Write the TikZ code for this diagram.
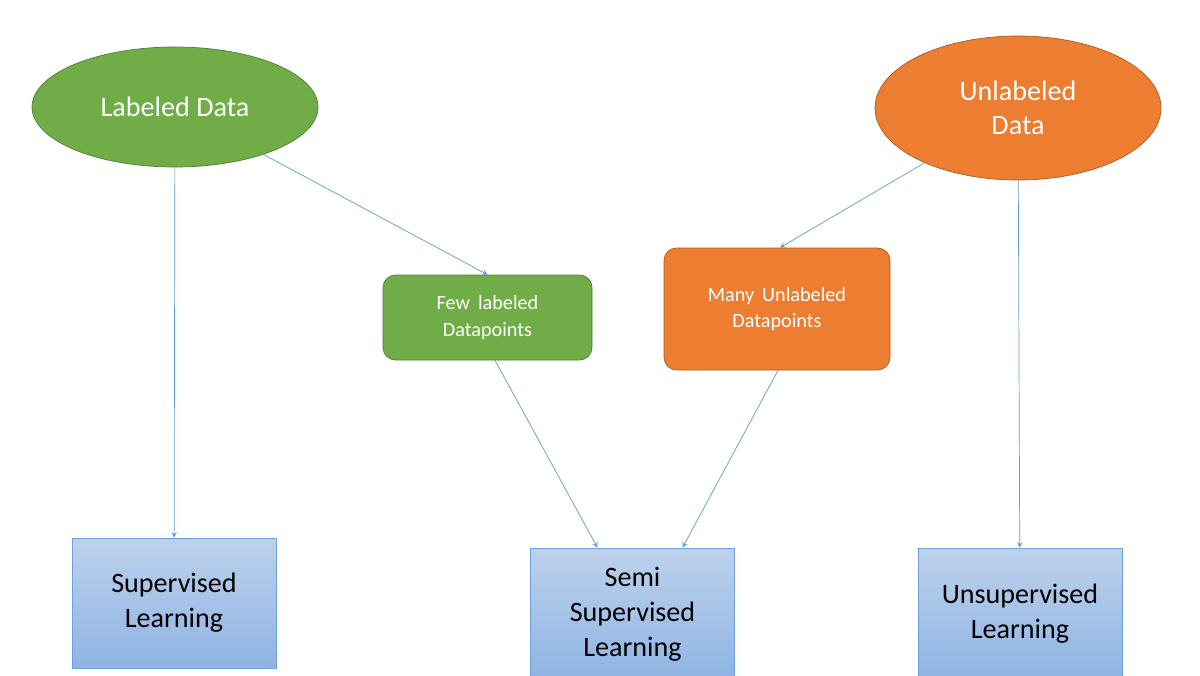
\documentclass[tikz,border=0pt]{standalone}
\usepackage{fontspec}
\setmainfont{Carlito}
\usepackage{tikz}
\usetikzlibrary{shapes.geometric}
\usetikzlibrary{calc}
\definecolor{leafgreen}{HTML}{70AD47}
\definecolor{leafedge}{HTML}{507E32}
\definecolor{rust}{HTML}{ED7D31}
\definecolor{rustedge}{HTML}{AE5A21}
\definecolor{arrowblue}{HTML}{5B9BD5}
\definecolor{boxtop}{HTML}{BDD1EC}
\definecolor{boxbot}{HTML}{8EB4E3}
\definecolor{boxedge}{HTML}{6FA0DC}
\tikzset {
  % data sources
  source/.style={ellipse, draw, minimum width=5.72cm, text=white, font=\fontsize{16}{19}\selectfont, align=center},
  % subsets of the data
  subset/.style={rounded corners=2.5mm, draw, text=white, font=\fontsize{11.5}{15}\selectfont, align=center},
  % learning kinds
  learner/.style={draw=boxedge, top color=boxtop, bottom color=boxbot, minimum width=4.08cm, minimum height=2.64cm, font=\fontsize{16}{20}\selectfont, align=center},
  flow/.style={->, arrowblue, thin, >=stealth},
}
\begin{document}
\begin{tikzpicture}
        \useasboundingbox (0,0) rectangle (24,13.5);
        \node[source, fill=leafgreen, draw=leafedge, minimum height=2.4cm] (lab) at (3.5,11.36) {Labeled Data};
        \node[source, fill=rust, draw=rustedge, minimum height=2.88cm] (unl) at (20.36,11.34) {Unlabeled\\Data};
        \node[subset, fill=leafgreen, draw=leafedge, minimum width=4.18cm, minimum height=1.7cm] (few) at (9.75,7.15) {Few\, labeled\\Datapoints};
        \node[subset, fill=rust, draw=rustedge, minimum width=4.52cm, minimum height=2.44cm] (many) at (15.54,7.32) {Many\, Unlabeled\\Datapoints};
        \node[learner, minimum height=2.6cm] (sup) at (3.48,1.44) {Supervised\\Learning};
        \node[learner] (semi) at (12.65,1.22) {Semi\\Supervised\\Learning};
        \node[learner] (unsup) at (20.4,1.22) {Unsupervised\\Learning};

        \draw [flow] (lab) -- (sup);
        \draw [flow] (lab) -- (few.north);
        \draw [flow] (unl) -- ($(many.north)+(0.06,0)$);
        \draw [flow] (unl) -- (unsup);
        \draw [flow] ($(few.south)+(0.15,0)$) -- ($(semi.north)+(-0.7,0)$);
        \draw [flow] ($(many.south)+(0.02,0)$) -- ($(semi.north)+(1.0,0)$);
\end{tikzpicture}
\end{document}
